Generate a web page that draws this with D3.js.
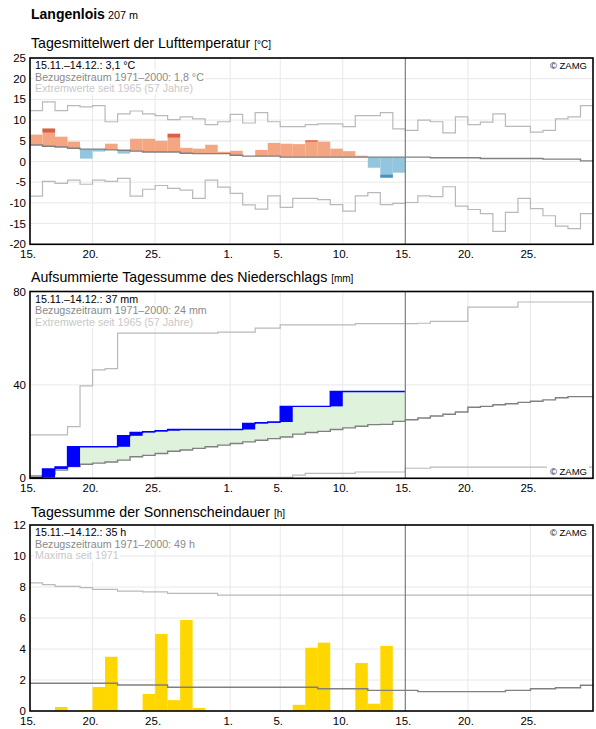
<!DOCTYPE html>
<html>
<head>
<meta charset="utf-8">
<script src="https://cdn.jsdelivr.net/npm/d3@7"></script>
<style>
    body { margin: 0; background: #fff; }
    svg { font-family: "Liberation Sans", Arial, sans-serif; }
</style>
</head>
<body>
<div id="chart"></div>
<script>
// period shown: 15.11. - 29.12., observed values up to 14.12.
const startDay = new Date(2021, 10, 15);
const endDay = new Date(2021, 11, 30);
const todayDay = new Date(2021, 11, 15);
const xTickDays = [
    new Date(2021, 10, 15), new Date(2021, 10, 20), new Date(2021, 10, 25),
    new Date(2021, 11, 1), new Date(2021, 11, 5), new Date(2021, 11, 10),
    new Date(2021, 11, 15), new Date(2021, 11, 20), new Date(2021, 11, 25)
];

// temperature [°C]
const tempObs = [6.5, 7.95, 6.0, 4.8, 0.7, 2.4, 4.3, 1.9, 5.5, 5.5, 5.0, 6.7, 3.3, 3.1, 4.05,
    2.35, 2.6, 1.3, 2.8, 4.5, 4.3, 4.2, 5.1, 4.8, 3.1, 2.5, 1.4, -1.5, -3.9, -2.7];
const tempStrong = [null, 7.0, null, null, null, null, null, null, null, null, null, 5.8, null, null, null,
    null, null, null, null, null, null, null, 4.8, null, null, null, null, null, -3.2, null];
const tempClim = [4.0, 3.7, 3.5, 3.2, 3.0, 3.0, 2.8, 2.7, 2.5, 2.3, 2.3, 2.3, 2.0, 1.9, 1.9,
    1.9, 1.5, 1.3, 1.3, 1.3, 1.05, 1.05, 1.05, 1.05, 1.05, 1.05, 1.05, 1.05, 1.05, 1.05,
    1.05, 1.05, 0.9, 0.9, 0.9, 0.9, 0.73, 0.73, 0.73, 0.73, 0.73, 0.57, 0.57, 0.57, 0.16];
const tempMax = [12.3, 14.4, 12.3, 13.5, 13.2, 13.5, 9.6, 11.5, 12.2, 11.5, 11.1, 10.1, 10.8, 10.3, 8.9,
    9.6, 11.4, 9.3, 11.8, 9.6, 8.4, 8.4, 8.9, 9.1, 9.1, 8.4, 11.1, 11.1, 11.8, 7.9,
    7.5, 10.0, 9.6, 6.9, 10.8, 8.9, 9.5, 11.5, 8.5, 8.5, 7.1, 7.5, 10.3, 10.8, 13.5];
const tempMin = [-8.35, -4.8, -5.3, -4.5, -5.5, -4.5, -4.8, -4.1, -8.35, -6.7, -5.8, -6.5, -6.9, -8.9, -4.5,
    -6.2, -7.7, -10.5, -11.5, -8.3, -11.1, -8.9, -8.9, -9.2, -10.4, -12.0, -8.3, -7.5, -10.4, -10.1,
    -9.9, -8.3, -8.5, -6.1, -10.8, -11.6, -12.6, -16.9, -12.3, -8.9, -11.4, -13.1, -15.6, -16.2, -12.6];

// precipitation, daily sums [mm]
const precipDaily = [0.3, 3.7, 0.9, 8.6, 0, 0, 0, 4.7, 1.4, 0.4, 0.4, 0.5, 0, 0, 0,
    0, 0, 2.6, 0.3, 0.3, 6.7, 0, 0, 0, 6.4, 0, 0, 0, 0, 0];
// accumulated climate mean / extremes [mm]
const precipClim = [1.0, 1.7, 3.5, 5.0, 6.0, 6.5, 7.0, 7.8, 9.2, 9.8, 10.6, 11.6, 12.1, 12.8, 13.5,
    14.2, 14.9, 15.6, 16.3, 17.0, 17.7, 18.9, 19.6, 20.1, 20.9, 21.6, 22.3, 23.0, 23.1, 24.4,
    25.1, 25.8, 26.7, 27.4, 28.4, 30.4, 30.8, 31.5, 31.9, 32.5, 33.0, 33.6, 34.5, 35.0, 35.0];
const precipMax = [18.6, 18.6, 18.6, 22.1, 39.6, 46.4, 47.0, 62.2, 62.2, 62.2, 62.2, 62.2, 62.2, 62.2, 62.2,
    62.6, 62.6, 62.6, 64.3, 64.3, 65.7, 65.7, 65.7, 65.7, 65.7, 65.7, 66.2, 66.2, 66.2, 66.2,
    66.2, 66.4, 67.2, 67.2, 67.2, 73.3, 73.3, 73.3, 73.3, 75.5, 75.5, 75.5, 75.5, 75.5, 75.5];
const precipMin = [0, 0, 0, 0, 0, 0, 0, 0, 0, 0, 0.4, 0.4, 0.4, 0.4, 0.4,
    0.4, 0.4, 0.4, 0.4, 0.4, 0.4, 1.4, 2.1, 2.1, 2.1, 2.1, 2.7, 2.7, 2.7, 2.7,
    4.3, 4.3, 4.8, 4.8, 4.8, 4.8, 4.8, 4.8, 4.8, 4.8, 4.8, 4.8, 4.8, 4.8, 4.8];

// sunshine duration [h]
const sunObs = [0, 0, 0.26, 0, 0.06, 1.55, 3.5, 0, 0, 1.1, 4.97, 0.7, 5.87, 0.2, 0,
    0, 0, 0, 0, 0, 0, 0.4, 4.08, 4.41, 0, 0, 3.1, 0.47, 4.2, 0];
const sunClim = [1.79, 1.79, 1.79, 1.79, 1.79, 1.79, 1.79, 1.68, 1.68, 1.68, 1.68, 1.53, 1.53, 1.53, 1.53,
    1.53, 1.53, 1.53, 1.53, 1.53, 1.53, 1.53, 1.53, 1.44, 1.44, 1.44, 1.44, 1.33, 1.33, 1.33,
    1.33, 1.25, 1.25, 1.25, 1.25, 1.25, 1.25, 1.25, 1.33, 1.33, 1.44, 1.44, 1.5, 1.5, 1.66];
const sunMax = [8.26, 8.15, 8.04, 8.04, 7.96, 7.85, 7.85, 7.74, 7.74, 7.68, 7.68, 7.59, 7.59, 7.59, 7.59,
    7.48, 7.48, 7.48, 7.48, 7.48, 7.48, 7.48, 7.48, 7.48, 7.48, 7.48, 7.48, 7.48, 7.48, 7.48,
    7.48, 7.48, 7.48, 7.48, 7.48, 7.48, 7.48, 7.48, 7.48, 7.48, 7.48, 7.48, 7.48, 7.48, 7.48];

const width = 596, height = 729;
const left = 30, right = 593;
const days = d3.timeDay.range(startDay, endDay);
const nextDay = d => d3.timeDay.offset(d, 1);

const svg = d3.select("#chart")
    .append("svg")
    .attr("width", width)
    .attr("height", height);

const x = d3.scaleTime()
    .domain([startDay, endDay])
    .range([left, right]);

const stepPoints = vals => vals.map((v, i) => [days[i], v])
    .concat([[nextDay(days[vals.length - 1]), vals[vals.length - 1]]]);

const cText = "#000", cClim = "#808080", cExt = "#b9b9b9", cGrid = "#e8e8e8";

// header
svg.append("text")
    .attr("x", 31)
    .attr("y", 19)
    .attr("font-size", 14)
    .attr("font-weight", 700)
    .text("Langenlois")
    .append("tspan")
    .attr("font-size", 10.8)
    .attr("font-weight", 400)
    .text(" 207 m");

function panel(top, bottom, yDomain, yTicks, title, unit, titleY, legend, zamgBottom) {
    const y = d3.scaleLinear().domain(yDomain).range([bottom, top]);
    const g = svg.append("g");
    const line = d3.line()
        .curve(d3.curveStepAfter)
        .x(d => x(d[0]))
        .y(d => y(d[1]));

    svg.append("text")
        .attr("x", 31)
        .attr("y", titleY)
        .attr("font-size", 14.2)
        .text(title + " ")
        .append("tspan")
        .attr("font-size", 10)
        .text(unit);

    // grid
    g.append("g")
        .attr("stroke", cGrid)
        .selectAll("line")
        .data(yTicks)
        .join("line")
        .attr("x1", left).attr("x2", right)
        .attr("y1", d => y(d)).attr("y2", d => y(d));
    g.append("g")
        .attr("stroke", cGrid)
        .selectAll("line")
        .data(xTickDays)
        .join("line")
        .attr("x1", d => x(d)).attr("x2", d => x(d))
        .attr("y1", top).attr("y2", bottom);

    // tick labels
    g.append("g")
        .attr("font-size", 11.5)
        .attr("text-anchor", "end")
        .selectAll("text")
        .data(yTicks)
        .join("text")
        .attr("x", 26)
        .attr("y", d => y(d))
        .attr("dy", "0.35em")
        .text(d => d);
    g.append("g")
        .attr("font-size", 11.5)
        .attr("text-anchor", "middle")
        .selectAll("text")
        .data(xTickDays)
        .join("text")
        .attr("x", d => x(d) - 2)
        .attr("y", bottom + 13.5)
        .text(d3.timeFormat("%-d."));

    const data = svg.append("g");
    const over = svg.append("g");

    function finish() {
        over.append("line")
            .attr("x1", x(todayDay)).attr("x2", x(todayDay))
            .attr("y1", top).attr("y2", bottom)
            .attr("stroke", cClim)
            .attr("stroke-width", 1.2);
        const bg = over.append("g").attr("fill", "#fff");
        const texts = over.append("g")
            .attr("font-size", 10.7)
            .selectAll("text")
            .data(legend)
            .join("text")
            .attr("x", 35)
            .attr("y", (d, i) => top + 11 + i * 11.7)
            .attr("fill", d => d.color)
            .text(d => d.text);
        const zamg = over.append("text")
            .attr("x", 587)
            .attr("y", zamgBottom ? bottom - 3.5 : top + 11)
            .attr("font-size", 9.5)
            .attr("text-anchor", "end")
            .text("© ZAMG");
        texts.each(function () {
            const b = this.getBBox();
            bg.append("rect")
                .attr("x", b.x - 1).attr("y", b.y)
                .attr("width", b.width + 2).attr("height", b.height);
        });
        const zb = zamg.node().getBBox();
        bg.append("rect")
            .attr("x", zb.x - 3).attr("y", zb.y)
            .attr("width", zb.width + 5).attr("height", zb.height);
        over.append("rect")
            .attr("x", left).attr("y", top)
            .attr("width", right - left).attr("height", bottom - top)
            .attr("fill", "none")
            .attr("stroke", "#000")
            .attr("stroke-width", 1.6);
    }
    return { y, data, line, finish };
}

// --- temperature
(function () {
    const p = panel(58, 244.3, [-20, 25], d3.range(-20, 26, 5),
        "Tagesmittelwert der Lufttemperatur", "[°C]", 48, [
            { text: "15.11.–14.12.: 3,1 °C", color: cText },
            { text: "Bezugszeitraum 1971–2000: 1,8 °C", color: "#8a8a8a" },
            { text: "Extremwerte seit 1965 (57 Jahre)", color: "#c8c8c8" }
        ], false);
    const y = p.y;
    p.data.append("g")
        .selectAll("rect")
        .data(tempObs)
        .join("rect")
        .attr("x", (d, i) => x(days[i]))
        .attr("width", (d, i) => x(nextDay(days[i])) - x(days[i]))
        .attr("y", (d, i) => y(Math.max(d, tempClim[i])))
        .attr("height", (d, i) => Math.abs(y(d) - y(tempClim[i])))
        .attr("fill", (d, i) => d >= tempClim[i] ? "#f4a582" : "#92c5de");
    p.data.append("g")
        .selectAll("rect")
        .data(tempObs.map((d, i) => ({ i, v: d, s: tempStrong[i] })).filter(d => d.s !== null))
        .join("rect")
        .attr("x", d => x(days[d.i]))
        .attr("width", d => x(nextDay(days[d.i])) - x(days[d.i]))
        .attr("y", d => y(Math.max(d.v, d.s)))
        .attr("height", d => Math.abs(y(d.v) - y(d.s)))
        .attr("fill", d => d.v >= tempClim[d.i] ? "#d6604d" : "#4393c3");
    [tempMax, tempMin].forEach(arr => {
        p.data.append("path")
            .attr("d", p.line(stepPoints(arr)))
            .attr("fill", "none")
            .attr("stroke", cExt)
            .attr("stroke-width", 1.2);
    });
    p.data.append("path")
        .attr("d", p.line(stepPoints(tempClim)))
        .attr("fill", "none")
        .attr("stroke", cClim)
        .attr("stroke-width", 1.4);
    p.finish();
})();

// --- precipitation
(function () {
    const p = panel(291.5, 478.3, [0, 80], [0, 40, 80],
        "Aufsummierte Tagessumme des Niederschlags", "[mm]", 282, [
            { text: "15.11.–14.12.: 37 mm", color: cText },
            { text: "Bezugszeitraum 1971–2000: 24 mm", color: "#8a8a8a" },
            { text: "Extremwerte seit 1965 (57 Jahre)", color: "#c8c8c8" }
        ], true);
    const y = p.y;
    const cum = Array.from(d3.cumsum(precipDaily));
    const area = d3.area()
        .curve(d3.curveStepAfter)
        .x(d => x(d[0]))
        .y0(d => y(d[1]))
        .y1(d => y(Math.max(d[1], d[2])));
    const pts = cum.map((v, i) => [days[i], precipClim[i], v])
        .concat([[nextDay(days[cum.length - 1]), precipClim[cum.length - 1], cum[cum.length - 1]]]);
    p.data.append("path")
        .attr("d", area(pts))
        .attr("fill", "#dff2dc");
    [precipMax, precipMin].forEach(arr => {
        p.data.append("path")
            .attr("d", p.line(stepPoints(arr)))
            .attr("fill", "none")
            .attr("stroke", cExt)
            .attr("stroke-width", 1.2);
    });
    p.data.append("path")
        .attr("d", p.line(stepPoints(precipClim)))
        .attr("fill", "none")
        .attr("stroke", cClim)
        .attr("stroke-width", 1.4);
    p.data.append("g")
        .attr("fill", "#0000ff")
        .selectAll("rect")
        .data(precipDaily.map((d, i) => ({ i, d })).filter(o => o.d > 0))
        .join("rect")
        .attr("x", o => x(days[o.i]))
        .attr("width", o => x(nextDay(days[o.i])) - x(days[o.i]))
        .attr("y", o => y(cum[o.i]))
        .attr("height", o => y(cum[o.i] - o.d) - y(cum[o.i]));
    p.data.append("path")
        .attr("d", p.line(stepPoints(cum)))
        .attr("fill", "none")
        .attr("stroke", "#0000ff")
        .attr("stroke-width", 1.4);
    p.finish();
})();

// --- sunshine
(function () {
    const p = panel(525, 711, [0, 12], d3.range(0, 13, 2),
        "Tagessumme der Sonnenscheindauer", "[h]", 517, [
            { text: "15.11.–14.12.: 35 h", color: cText },
            { text: "Bezugszeitraum 1971–2000: 49 h", color: "#8a8a8a" },
            { text: "Maxima seit 1971", color: "#c8c8c8" }
        ], false);
    const y = p.y;
    p.data.append("g")
        .attr("fill", "#ffd700")
        .selectAll("rect")
        .data(sunObs)
        .join("rect")
        .attr("x", (d, i) => x(days[i]))
        .attr("width", (d, i) => x(nextDay(days[i])) - x(days[i]))
        .attr("y", d => y(d))
        .attr("height", d => y(0) - y(d));
    p.data.append("path")
        .attr("d", p.line(stepPoints(sunMax)))
        .attr("fill", "none")
        .attr("stroke", cExt)
        .attr("stroke-width", 1.2);
    p.data.append("path")
        .attr("d", p.line(stepPoints(sunClim)))
        .attr("fill", "none")
        .attr("stroke", cClim)
        .attr("stroke-width", 1.4);
    p.finish();
})();
</script>
</body>
</html>
